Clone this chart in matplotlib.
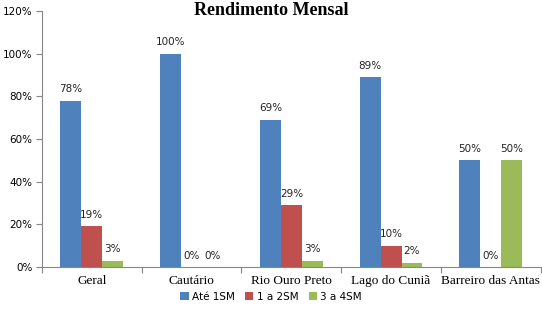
import matplotlib
matplotlib.use("Agg")
import matplotlib.pyplot as plt
import numpy as np

categories = ["Geral", "Cautário", "Rio Ouro Preto", "Lago do Cuniã", "Barreiro das Antas"]
series_names = ["Até 1SM", "1 a 2SM", "3 a 4SM"]
ate1 = [78, 100, 69, 89, 50]
um_a_dois = [19, 0, 29, 10, 0]
tres_a_quatro = [3, 0, 3, 2, 50]
colors = ["#4F81BD", "#C0504D", "#9BBB59"]

fig = plt.figure(figsize=(5.42, 3.19), dpi=100)
ax = fig.add_axes([0.0775, 0.163, 0.92, 0.8025])

x = np.arange(len(categories))
w = 0.21
handles = []
for i, (vals, name, c) in enumerate(zip([ate1, um_a_dois, tres_a_quatro], series_names, colors)):
    pos = x + (i - 1) * w
    b = ax.bar(pos, vals, width=w, color=c, label=name, zorder=2)
    handles.append(b)
    for px, v in zip(pos, vals):
        ax.text(px, v + 3, f"{v}%", ha="center", va="bottom", fontsize=7.5,
                family="DejaVu Sans", color="#222222")

ax.set_xlim(-0.5, len(categories) - 0.5)
ax.set_ylim(0, 120)
ax.set_yticks(range(0, 121, 20))
ax.set_yticklabels([f"{t}%" for t in range(0, 121, 20)], fontsize=7.5, family="DejaVu Sans")
ax.set_xticks(np.arange(-0.5, len(categories) + 0.5, 1))
ax.set_xticklabels([])
ax.set_xticks(x, minor=True)
ax.set_xticklabels(categories, minor=True, fontsize=9.5, family="Liberation Serif")
ax.tick_params(axis="x", which="minor", length=0, pad=6)
ax.tick_params(axis="x", which="major", length=4, color="#868686")
ax.tick_params(axis="y", length=4, color="#868686", pad=3)

for s in ["top", "right"]:
    ax.spines[s].set_visible(False)
for s in ["left", "bottom"]:
    ax.spines[s].set_color("#868686")

fig.text(0.5, 0.968, "Rendimento Mensal", ha="center", va="center", fontsize=13,
         fontweight="bold", family="Liberation Serif")

fig.legend(handles=handles, labels=series_names, loc="center", bbox_to_anchor=(0.5, 0.07),
           ncol=3, frameon=False, fontsize=7.5, handlelength=0.8, handleheight=0.8,
           handletextpad=0.3, columnspacing=1.0)

fig.savefig("out.png", dpi=100)
